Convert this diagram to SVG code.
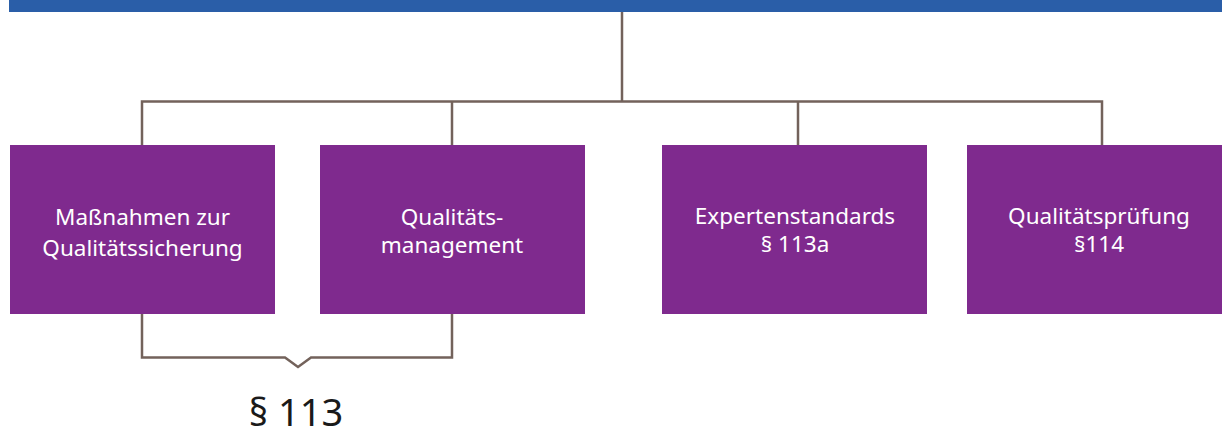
<svg xmlns="http://www.w3.org/2000/svg" width="1222" height="436" viewBox="0 0 1222 436">
<style>
.box{fill:#7f2a8e}
.lbl{font-family:"Noto Sans","Open Sans",sans-serif;font-size:22.5px;fill:#ffffff;text-anchor:middle}
.ln{fill:none;stroke:#73625b;stroke-width:2.5}
</style>
<rect x="9" y="0" width="1213" height="12" fill="#2a5ea8"/>
<g id="connectors">
<path class="ln" d="M622 12 V101.5"/>
<path class="ln" d="M142 145 V101.5 H1102 V145"/>
<path class="ln" d="M452 101.5 V145"/>
<path class="ln" d="M798 101.5 V145"/>
<path class="ln" d="M142 314 V357.5 H285 L298 367 L311 357.5 H452 V314"/>
</g>
<g id="n1"><rect class="box" x="10" y="145" width="265" height="169"/><text class="lbl" x="142.5" y="225">Maßnahmen zur</text><text class="lbl" x="142.5" y="256">Qualitätssicherung</text></g>
<g id="n2"><rect class="box" x="320" y="145" width="265" height="169"/><text class="lbl" x="452" y="225">Qualitäts-</text><text class="lbl" x="452" y="253">management</text></g>
<g id="n3"><rect class="box" x="662" y="145" width="265" height="169"/><text class="lbl" x="795" y="224">Expertenstandards</text><text class="lbl" x="795" y="252">§ 113a</text></g>
<g id="n4"><rect class="box" x="967" y="145" width="265" height="169"/><text class="lbl" x="1099" y="224">Qualitätsprüfung</text><text class="lbl" x="1099" y="252">§114</text></g>
<g id="label113"><text x="296" y="426" style="font-family:'Noto Sans','Open Sans',sans-serif;font-size:38px;fill:#1a1a1a;text-anchor:middle">§ 113</text></g>
</svg>
